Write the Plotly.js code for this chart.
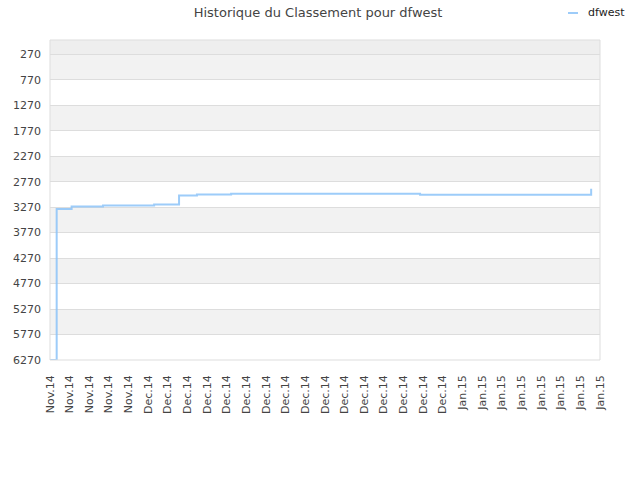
<!DOCTYPE html>
<html>
<head>
<meta charset="utf-8">
<script src="https://cdn.plot.ly/plotly-3.0.1.min.js"></script>
<style>
  html, body { margin: 0; padding: 0; background: #fff; }
  #plot { width: 640px; height: 480px; }
</style>
</head>
<body>
<div id="plot"></div>
<script>
const plotDiv = document.getElementById("plot");

// tick labels along the x axis (one per tick position)
const xLabels = [
  "Nov.14", "Nov.14", "Nov.14", "Nov.14", "Nov.14",
  "Dec.14", "Dec.14", "Dec.14", "Dec.14", "Dec.14", "Dec.14", "Dec.14", "Dec.14",
  "Dec.14", "Dec.14", "Dec.14", "Dec.14", "Dec.14", "Dec.14", "Dec.14", "Dec.14",
  "Jan.15", "Jan.15", "Jan.15", "Jan.15", "Jan.15", "Jan.15", "Jan.15", "Jan.15"
];
const yTicks = [270, 770, 1270, 1770, 2270, 2770, 3270, 3770, 4270, 4770, 5270, 5770, 6270];

// rank history (position on the tick scale, rank)
const seriesName = "dfwest";
const rankX = [0, 0.34, 1.10, 2.70, 5.30, 6.57, 7.48, 9.22, 18.84, 27.55];
const rankY = [6270, 3308, 3257, 3237, 3218, 3041, 3022, 3008, 3028, 2910];

const lineColor = "rgba(140,195,248,0.85)";

const trace = {
  x: rankX,
  y: rankY,
  type: "scatter",
  mode: "lines",
  name: seriesName,
  showlegend: false,
  line: { color: lineColor, width: 2, shape: "hv" },
};

// alternating grey bands between y gridlines
const shapes = [];
for (let i = 0; i < yTicks.length - 1; i += 2) {
  shapes.push({
    type: "rect", xref: "paper", yref: "y", layer: "below",
    x0: 0, x1: 1, y0: yTicks[i], y1: yTicks[i + 1],
    fillcolor: "#f2f2f2", line: { width: 0 },
  });
}
shapes.push({
  type: "rect", xref: "paper", yref: "y", layer: "below",
  x0: 0, x1: 1, y0: -10, y1: yTicks[0],
  fillcolor: "#eeeeee", line: { width: 0 },
});
// plot frame
shapes.push({
  type: "rect", xref: "paper", yref: "paper", layer: "above",
  x0: 0, x1: 1, y0: 0, y1: 1,
  fillcolor: "rgba(0,0,0,0)", line: { color: "#dddddd", width: 1 },
});
// legend swatch
shapes.push({
  type: "line", xref: "paper", yref: "paper",
  x0: 518 / 550, x1: 528 / 550, y0: 1 + 27 / 320, y1: 1 + 27 / 320,
  line: { color: lineColor, width: 2 },
});

const layout = {
  width: 640,
  height: 480,
  paper_bgcolor: "#fff",
  plot_bgcolor: "#fff",
  font: { family: "DejaVu Sans, sans-serif", size: 11, color: "#444" },
  title: {
    text: "Historique du Classement pour dfwest",
    x: 0.497, xanchor: "center", y: 0.975, yanchor: "middle",
    font: { size: 13, color: "#444" },
  },
  margin: { l: 50, r: 40, t: 40, b: 120, autoexpand: false },
  showlegend: false,
  annotations: [{
    text: seriesName, xref: "paper", yref: "paper",
    x: 536 / 550, y: 1 + 27 / 320, xanchor: "left", yanchor: "middle",
    showarrow: false, font: { size: 11, color: "#222" },
  }],
  xaxis: {
    range: [0, 28],
    tickvals: xLabels.map((_, i) => i),
    ticktext: xLabels,
    tickangle: -90,
    showgrid: false,
    zeroline: false,
    showline: false,
    ticks: "",
    ticklabelstandoff: 12,
    fixedrange: true,
  },
  yaxis: {
    range: [6270, -10],
    tickvals: yTicks,
    ticktext: yTicks.map(String),
    showgrid: true,
    gridcolor: "#dddddd",
    zeroline: false,
    showline: false,
    ticks: "",
    ticklabelstandoff: 8,
  },
  shapes: shapes,
};

const config = { displayModeBar: false, staticPlot: true };

Plotly.newPlot(plotDiv, [trace], layout, config);
</script>
</body>
</html>
